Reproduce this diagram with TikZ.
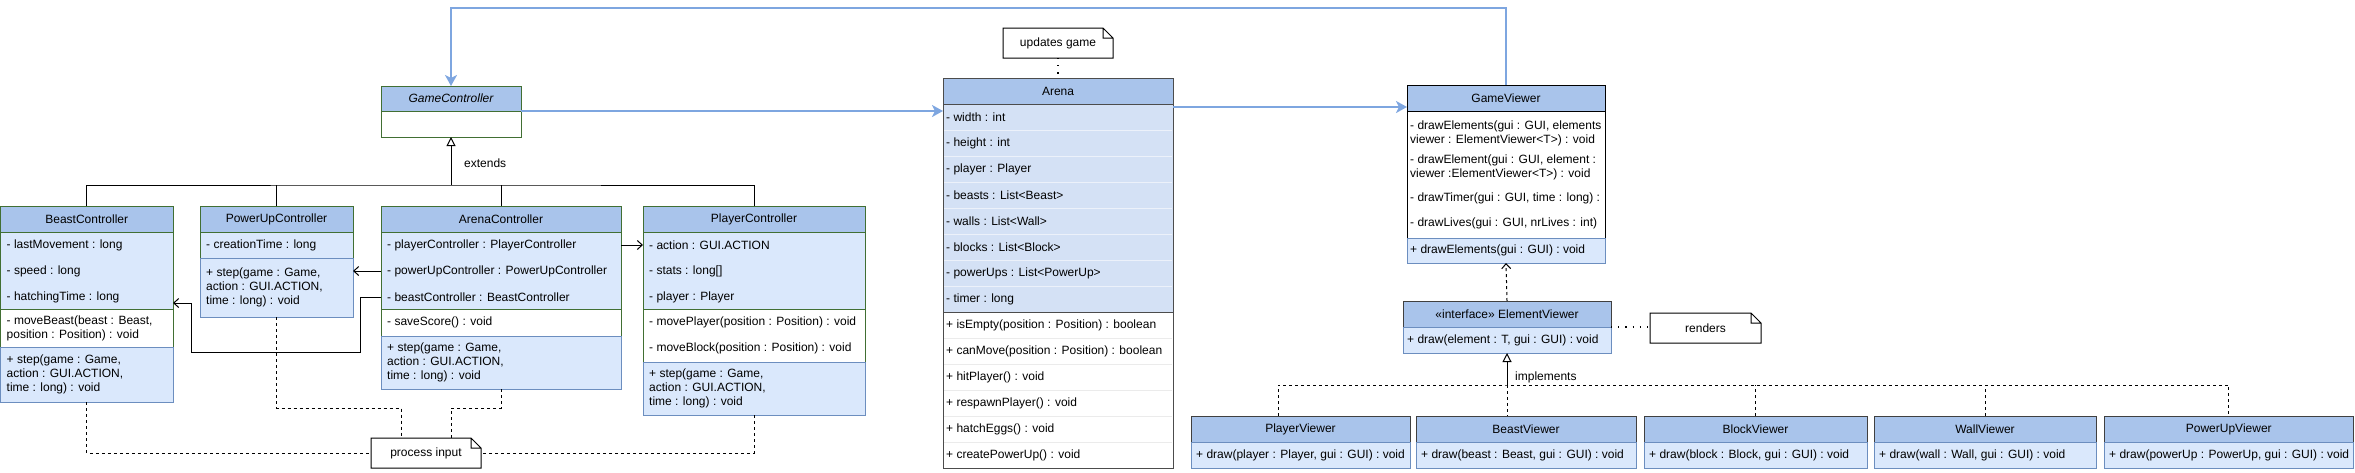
\documentclass[tikz,border=0pt]{standalone}
\usepackage{fontspec}
\setmainfont{Liberation Sans}
\usetikzlibrary{arrows.meta}
\usetikzlibrary{calc}
\usetikzlibrary{positioning}
\definecolor{hdrfill}{HTML}{A9C4EB}
\definecolor{rowfill}{HTML}{DAE8FC}
\definecolor{arenafill}{HTML}{D4E1F5}
\definecolor{edgeblue}{HTML}{6C8EBF}
\definecolor{edgegreen}{HTML}{416F33}
\definecolor{linkblue}{HTML}{7EA6E0}
\tikzset{
	every node/.style={font=\fontsize{12}{14}\selectfont},
	sect/.style={draw, anchor=north west, inner sep=0pt, outer sep=0pt, line width=1pt},
	hdr/.style={sect, fill=hdrfill, minimum height=26},
	row/.style={anchor=west, inner sep=0pt, align=left},
	notebox/.style={minimum width=110, minimum height=30, inner sep=0pt, outer sep=0pt, fill=white},
	assoc/.style={draw, line width=1pt, -{Straight Barb[length=5pt,width=9pt]}},
	dep/.style={assoc, dash pattern=on 3pt off 3pt},
	gen/.style={draw, line width=1pt, -{Triangle[open,length=9pt,width=9pt]}},
	realize/.style={draw, line width=1pt, dash pattern=on 3pt off 3pt},
	dotline/.style={draw, line width=1.2pt, dash pattern=on 1.2pt off 6pt},
	link/.style={draw=linkblue, line width=2.8pt, -{Stealth[length=11pt,width=12pt,inset=3pt]}},
}
\begin{document}
\begin{tikzpicture}[x=1pt,y=-1pt]
	\useasboundingbox (0,0) rectangle (2355,472);

	\node[hdr, draw=edgegreen, minimum width=140, minimum height=25] (GameController) at (381,86) {\itshape GameController};
	\node[sect, draw=edgegreen, fill=white, minimum width=140, minimum height=26] (GameController-b) at (GameController.south west) {};

	\node[hdr, draw=edgegreen, minimum width=172.5] (BeastController) at (0.5,206) {BeastController};
	\node[sect, draw=edgegreen, fill=rowfill, minimum width=172.5, minimum height=77] (BeastController-f) at (BeastController.south west) {};
	\node[sect, draw=edgegreen, fill=white, minimum width=172.5, minimum height=38] (BeastController-p) at (BeastController-f.south west) {};
	\node[sect, draw=edgeblue, fill=rowfill, minimum width=172.5, minimum height=55] (BeastController-m) at (BeastController-p.south west) {};
	\foreach \t [count=\i] in {- lastMovement : long, - speed : long, - hatchingTime : long}
		\node[row] (BeastController-f\i) at ($(BeastController-f.north west)+(6,26*\i-13)$) {\t};
	\node[row] (BeastController-p1) at ($(BeastController-p.west)+(6,0)$) {- moveBeast(beast : Beast,\\position : Position) : void};
	\node[row] (BeastController-m1) at ($(BeastController-m.west)+(6,0)$) {+ step(game : Game,\\action : GUI.ACTION,\\time : long) : void};

	\node[hdr, draw=edgegreen, minimum width=153] (PowerUpController) at (200,206) {PowerUpController};
	\node[sect, draw=edgegreen, fill=rowfill, minimum width=153, minimum height=26] (PowerUpController-f) at (PowerUpController.south west) {};
	\node[sect, draw=edgeblue, fill=rowfill, minimum width=153, minimum height=59] (PowerUpController-m) at (PowerUpController-f.south west) {};
	\node[row] (PowerUpController-f1) at ($(PowerUpController-f.west)+(6,0)$) {- creationTime : long};
	\node[row] (PowerUpController-m1) at ($(PowerUpController-m.west)+(6,0)$) {+ step(game : Game,\\action : GUI.ACTION,\\time : long) : void};

	\node[hdr, draw=edgegreen, minimum width=240] (ArenaController) at (381,206) {ArenaController};
	\node[sect, draw=edgegreen, fill=rowfill, minimum width=240, minimum height=77] (ArenaController-f) at (ArenaController.south west) {};
	\node[sect, draw=edgegreen, fill=white, minimum width=240, minimum height=27] (ArenaController-p) at (ArenaController-f.south west) {};
	\node[sect, draw=edgeblue, fill=rowfill, minimum width=240, minimum height=53] (ArenaController-m) at (ArenaController-p.south west) {};
	\foreach \t [count=\i] in {- playerController : PlayerController, - powerUpController : PowerUpController, - beastController : BeastController}
		\node[row] (ArenaController-f\i) at ($(ArenaController-f.north west)+(6,26*\i-13)$) {\t};
	\node[row] (ArenaController-p1) at ($(ArenaController-p.west)+(6,0)$) {- saveScore() : void};
	\node[row] (ArenaController-m1) at ($(ArenaController-m.west)+(6,0)$) {+ step(game : Game,\\action : GUI.ACTION,\\time : long) : void};

	\node[hdr, draw=edgegreen, minimum width=222] (PlayerController) at (643,206) {PlayerController};
	\node[sect, draw=edgegreen, fill=rowfill, minimum width=222, minimum height=77] (PlayerController-f) at (PlayerController.south west) {};
	\node[sect, draw=edgegreen, fill=white, minimum width=222, minimum height=53] (PlayerController-p) at (PlayerController-f.south west) {};
	\node[sect, draw=edgeblue, fill=rowfill, minimum width=222, minimum height=53] (PlayerController-m) at (PlayerController-p.south west) {};
	\foreach \t [count=\i] in {- action : GUI.ACTION, - stats : long[], - player : Player}
		\node[row] (PlayerController-f\i) at ($(PlayerController-f.north west)+(6,26*\i-13)$) {\t};
	\foreach \t [count=\i] in {- movePlayer(position : Position) : void, - moveBlock(position : Position) : void}
		\node[row] (PlayerController-p\i) at ($(PlayerController-p.north west)+(6,26*\i-13)$) {\t};
	\node[row] (PlayerController-m1) at ($(PlayerController-m.west)+(6,0)$) {+ step(game : Game,\\action : GUI.ACTION,\\time : long) : void};

	\node[hdr, draw=black!70, minimum width=230] (Arena) at (943,78) {Arena};
	\node[sect, draw=black!70, fill=arenafill, minimum width=230, minimum height=208] (Arena-f) at (Arena.south west) {};
	\node[sect, draw=black!70, fill=white, minimum width=230, minimum height=156] (Arena-m) at (Arena-f.south west) {};
	\foreach \k in {1,...,7}
		\draw[white!55!arenafill, line width=1pt] ($(Arena-f.north west)+(1,26*\k)$) -- ($(Arena-f.north east)+(-1,26*\k)$);
	\foreach \k in {1,...,5}
		\draw[black!8, line width=1pt] ($(Arena-m.north west)+(1,26*\k)$) -- ($(Arena-m.north east)+(-1,26*\k)$);
	\foreach \t [count=\i] in {- width : int, - height : int, - player : Player, - beasts : List<Beast>, - walls : List<Wall>, - blocks : List<Block>, - powerUps : List<PowerUp>, - timer : long}
		\node[row] (Arena-f\i) at ($(Arena-f.north west)+(3,26*\i-13)$) {\t};
	\foreach \t [count=\i] in {+ isEmpty(position : Position) : boolean, + canMove(position : Position) : boolean, + hitPlayer() : void, + respawnPlayer() : void, + hatchEggs() : void, + createPowerUp() : void}
		\node[row] (Arena-m\i) at ($(Arena-m.north west)+(3,26*\i-13)$) {\t};

	\node[hdr, draw=black, minimum width=198] (GameViewer) at (1407,85) {GameViewer};
	\node[sect, draw=black, fill=white, minimum width=198, minimum height=127] (GameViewer-f) at (GameViewer.south west) {};
	\node[sect, draw=edgeblue, fill=rowfill, minimum width=198, minimum height=25] (GameViewer-m) at (GameViewer-f.south west) {};
	\begin{scope}
		\clip (GameViewer-f.north west) rectangle (GameViewer-f.south east);
		\node[row] (GameViewer-f1) at ($(GameViewer-f.north west)+(3,22)$) {- drawElements(gui : GUI, elements\\viewer : ElementViewer<T>) : void};
		\node[row] (GameViewer-f2) at ($(GameViewer-f.north west)+(3,56)$) {- drawElement(gui : GUI, element :\\viewer :ElementViewer<T>) : void};
		\node[row] (GameViewer-f3) at ($(GameViewer-f.north west)+(3,87)$) {- drawTimer(gui : GUI, time : long) :};
		\node[row] (GameViewer-f4) at ($(GameViewer-f.north west)+(3,112)$) {- drawLives(gui : GUI, nrLives : int)};
	\end{scope}
	\node[row] (GameViewer-m1) at ($(GameViewer-m.west)+(3,0)$) {+ drawElements(gui : GUI) : void};

	\node[hdr, draw=black!75, minimum width=208] (ElementViewer) at (1403,301) {«interface» ElementViewer};
	\node[sect, draw=edgeblue, fill=rowfill, minimum width=208, minimum height=26] (ElementViewer-m) at (ElementViewer.south west) {};
	\node[row] (ElementViewer-m1) at ($(ElementViewer-m.west)+(4,0)$) {+ draw(element : T, gui : GUI) : void};

	\foreach \n/\x/\w/\a in {PlayerViewer/1191/219/player : Player, BeastViewer/1416/220/beast : Beast, BlockViewer/1644/223/block : Block, WallViewer/1874/222/wall : Wall, PowerUpViewer/2104/249.5/powerUp : PowerUp}{
		\node[hdr, draw=black!75, minimum width=\w] (\n) at (\x,416) {\n};
		\node[sect, draw=edgeblue, fill=rowfill, minimum width=\w, minimum height=26] (\n-m) at (\n.south west) {};
		\node[row] (\n-m1) at ($(\n-m.west)+(5,0)$) {+ draw(\a, gui : GUI) : void};
	}

	\node[notebox] (updates) at (1058,43) {updates game};
	\node[notebox, minimum width=111] (renders) at (1705.5,328) {renders};
	\node[notebox] (procinput) at (426,453) {process input};
	\foreach \n in {updates,renders,procinput}
		\draw[line width=1pt] (\n.south west) -- (\n.north west) -- ($(\n.north east)+(-10,0)$) -- ($(\n.north east)+(0,10)$) -- (\n.south east) -- cycle
			($(\n.north east)+(-10,0)$) -- ($(\n.north east)+(-10,10)$) -- ($(\n.north east)+(0,10)$);

	\coordinate (bus) at (GameController.south |- 0,185);
	\draw[line width=1pt] (BeastController.north) |- (bus) -| (PlayerController.north);
	\draw[line width=1pt] (PowerUpController.north) -- (PowerUpController.north |- bus);
	\draw[line width=1pt] (ArenaController.north) -- (ArenaController.north |- bus);
	\draw[gen] (bus) -- (GameController-b.south);
	\node[anchor=west, inner sep=0pt] (extends) at (464,163) {extends};

	\draw[link] (GameViewer.north) -- ++(0,-77) -| (GameController.north);
	\draw[link] (GameController.south east) -- (GameController.south east -| Arena.west);
	\coordinate (arenaout) at ($(Arena.south east)+(0,3)$);
	\draw[link] (arenaout) -- (arenaout -| GameViewer.west);

	\draw[assoc] (ArenaController-f.north east |- ArenaController-f1) -- (PlayerController-f.north west |- ArenaController-f1);
	\draw[assoc] (ArenaController-f.north west |- ArenaController-f2) -- (PowerUpController-m.east |- ArenaController-f2);
	\coordinate (beastin) at ($(BeastController-f.north east)+(0,71)$);
	\draw[assoc] (ArenaController-f.north west |- ArenaController-f3) -- ++(-21,0) -- ++(0,55) -| ($(beastin)+(18,0)$) -- (beastin);

	\draw[realize] (BeastController-m.south) |- (procinput.west);
	\draw[realize] (PowerUpController-m.south) -- ++(0,91) -| ($(procinput.north)+(-25,0)$);
	\draw[realize] (ArenaController-m.south) -- ++(0,19) -| ($(procinput.north)+(25,0)$);
	\draw[realize] (PlayerController-m.south) |- (procinput.east);

	\draw[dotline] (updates.south) -- (Arena.north);
	\draw[dotline] (ElementViewer.south east) -- (ElementViewer.south east -| renders.west);
	\draw[dep] (ElementViewer.north) -- (GameViewer-m.south);

	\coordinate (impl) at (ElementViewer.south |- 0,385);
	\draw[gen] (impl) -- (ElementViewer-m.south);
	\node[anchor=west, inner sep=0pt] (implements) at (1515,377) {implements};
	\draw[realize] ($(PlayerViewer.north west)+(87,0)$) |- (impl) -| (PowerUpViewer.north);
	\draw[realize] (impl) -- (impl |- BeastViewer.north);
	\draw[realize] (BlockViewer.north) -- (BlockViewer.north |- impl);
	\draw[realize] (WallViewer.north) -- (WallViewer.north |- impl);
\end{tikzpicture}
\end{document}
